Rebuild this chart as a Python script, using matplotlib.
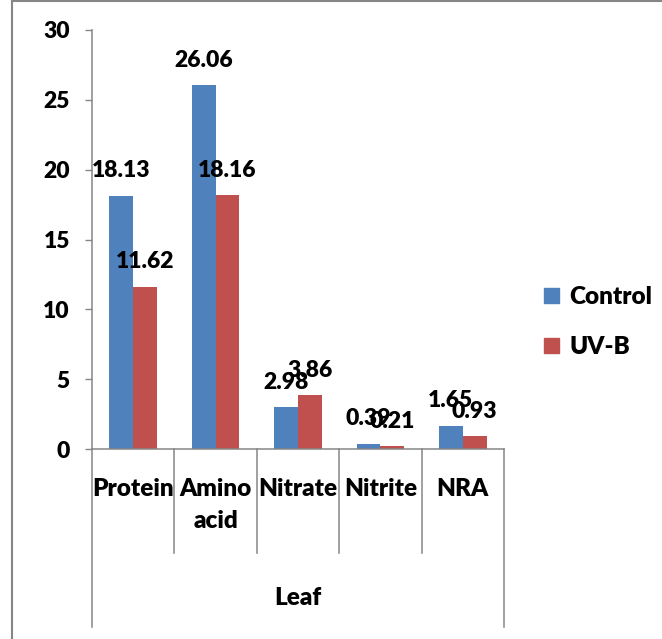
import numpy as np
import matplotlib
matplotlib.use('Agg')
import matplotlib.pyplot as plt
from matplotlib.lines import Line2D
from matplotlib.patches import Patch

plt.rcParams['font.family'] = ['Lato', 'DejaVu Sans']
plt.rcParams['font.weight'] = 'bold'

categories = ['Protein', 'Amino\nacid', 'Nitrate', 'Nitrite', 'NRA']
group_label = 'Leaf'
control = [18.13, 26.06, 2.98, 0.39, 1.65]
uvb = [11.62, 18.16, 3.86, 0.21, 0.93]
control_labels = ['18.13', '26.06', '2.98', '0.39', '1.65']
uvb_labels = ['11.62', '18.16', '3.86', '0.21', '0.93']
series_names = ['Control', 'UV-B']

blue = '#4F81BD'
red = '#C0504D'
grey = '#868686'
fs = 16.5      # numbers
fs_txt = 17.5  # words
wt = 'heavy'

W, H = 662, 639
fig = plt.figure(figsize=(W / 100, H / 100), dpi=100)
ax_l, ax_r, ax_t, ax_b = 92, 504, 30, 449
ax = fig.add_axes([ax_l / W, 1 - ax_b / H, (ax_r - ax_l) / W, (ax_b - ax_t) / H])

x = np.arange(len(categories))
w = 0.29
b1 = ax.bar(x - w / 2, control, w, color=blue)
b2 = ax.bar(x + w / 2, uvb, w, color=red)

for bars, labs in [(b1, control_labels), (b2, uvb_labels)]:
    for b, lab in zip(bars, labs):
        ax.annotate(lab, (b.get_x() + b.get_width() / 2, b.get_height()),
                    xytext=(0, 18), textcoords='offset points',
                    ha='center', va='center', fontsize=fs, fontweight=wt)

ax.set_xlim(-0.5, len(categories) - 0.5)
ax.set_ylim(0, 30)
ax.set_yticks(np.arange(0, 31, 5))
ax.set_xticks(x)
ax.set_xticklabels(categories, linespacing=1.55)
ax.tick_params(axis='x', length=0, pad=21, labelsize=fs_txt)
ax.tick_params(axis='y', length=5, width=1, color=grey, pad=11, labelsize=fs)
for lab in ax.get_xticklabels() + ax.get_yticklabels():
    lab.set_fontweight(wt)

for s in ['top', 'right']:
    ax.spines[s].set_visible(False)
for s in ['left', 'bottom']:
    ax.spines[s].set_color(grey)
    ax.spines[s].set_linewidth(1.1)

# category separators under the axis
ax_h = ax_b - ax_t
inner = -(553 - ax_b) / ax_h
outer = -(627 - ax_b) / ax_h
trans = ax.get_xaxis_transform()
for i, sx in enumerate(np.arange(-0.5, len(categories), 1.0)):
    y_end = outer if i in (0, len(categories)) else inner
    ax.plot([sx, sx], [0, y_end], transform=trans, color=grey, lw=1.1, clip_on=False)

ax.text(0.5, -(598 - ax_b) / ax_h, group_label, transform=ax.transAxes,
        ha='center', va='center', fontsize=fs_txt, fontweight=wt)

handles = [Patch(color=blue), Patch(color=red)]
fig.legend(handles, series_names, loc='center left',
           bbox_to_anchor=(544 / W, 1 - 322 / H), frameon=False,
           borderpad=0, borderaxespad=0, handlelength=0.6, handleheight=0.6,
           handletextpad=0.45, labelspacing=1.15,
           prop={'size': fs_txt, 'weight': wt})

# outer chart frame (left and top edges visible)
fig.add_artist(Line2D([12 / W, 12 / W], [0, 1 - 1 / H], color=grey, lw=1.5))
fig.add_artist(Line2D([12 / W, 1], [1 - 1 / H, 1 - 1 / H], color=grey, lw=1.5))

fig.savefig('out.png', dpi=100)
